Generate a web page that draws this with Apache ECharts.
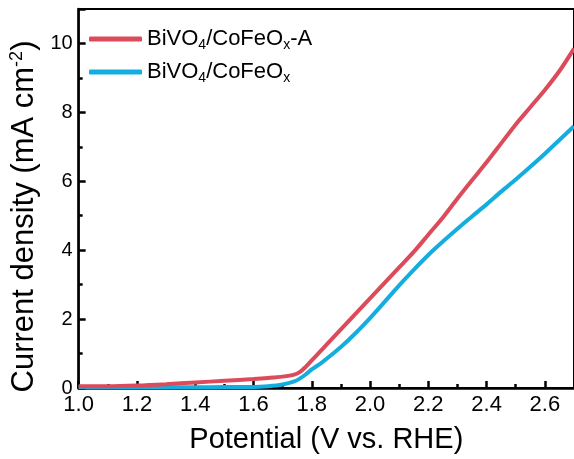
<!DOCTYPE html>
<html>
<head>
<meta charset="utf-8">
<script src="https://cdn.jsdelivr.net/npm/echarts@6/dist/echarts.min.js"></script>
<style>
  html, body { margin: 0; padding: 0; background: #fff; }
  #chart { width: 574px; height: 459px; }
</style>
</head>
<body>
<div id="chart"></div>
<script>
// potential (V vs. RHE)
const potential = [1.00, 1.10, 1.20, 1.30, 1.40, 1.50, 1.60, 1.65, 1.70, 1.74, 1.76, 1.78, 1.80, 1.83, 1.85, 1.90, 1.95,
  2.00, 2.05, 2.10, 2.15, 2.20, 2.25, 2.30, 2.35, 2.40, 2.45, 2.50, 2.55, 2.60, 2.65, 2.70];
// BiVO4/CoFeOx-A
const currentA = [0.05, 0.05, 0.07, 0.11, 0.16, 0.21, 0.26, 0.29, 0.33, 0.39, 0.47, 0.62, 0.8, 1.07, 1.25, 1.7, 2.15,
  2.6, 3.05, 3.5, 3.95, 4.45, 4.95, 5.5, 6.03, 6.55, 7.1, 7.65, 8.15, 8.65, 9.2, 9.85];
// BiVO4/CoFeOx
const currentB = [0.02, 0.02, 0.02, 0.02, 0.02, 0.03, 0.03, 0.05, 0.1, 0.19, 0.28, 0.4, 0.54, 0.71, 0.84, 1.19, 1.59,
  2.03, 2.5, 2.98, 3.43, 3.86, 4.25, 4.62, 4.98, 5.33, 5.7, 6.05, 6.42, 6.8, 7.2, 7.6];

const names = ['BiVO4/CoFeOx-A', 'BiVO4/CoFeOx'];
const colors = ['#dc4b5b', '#14addf'];

const font = 'Liberation Sans, Arial, sans-serif';

const chart = echarts.init(document.getElementById('chart'));
chart.setOption({
  animation: false,
  grid: {
    left: 77, right: 0, top: 9, bottom: 71,
    show: true, borderColor: '#000', borderWidth: 2
  },
  legend: {
    orient: 'vertical',
    left: 89, top: 28, padding: 0,
    itemWidth: 53, itemHeight: 5, itemGap: 9,
    icon: 'roundRect',
    data: names,
    formatter: function (n) {
      return n === names[0]
        ? 'BiVO{sub|4}/CoFeO{sub|x}-A'
        : 'BiVO{sub|4}/CoFeO{sub|x}';
    },
    textStyle: {
      fontFamily: font, fontSize: 22, color: '#000',
      rich: {
        sub: { fontFamily: font, fontSize: 14, color: '#000', verticalAlign: 'bottom', padding: [12, 0, 0, 0] }
      }
    }
  },
  xAxis: {
    type: 'value',
    min: 1.0, max: 2.7, interval: 0.2,
    name: 'Potential (V vs. RHE)',
    nameLocation: 'middle', nameGap: 37,
    nameTextStyle: { fontFamily: font, fontSize: 29, color: '#000' },
    axisLine: { lineStyle: { color: '#000', width: 2.5 } },
    axisTick: { inside: true, length: 7, lineStyle: { color: '#000', width: 2.5 } },
    minorTick: { show: true, splitNumber: 2, length: 4, lineStyle: { color: '#000', width: 2.5 } },
    axisLabel: {
      fontFamily: font, fontSize: 22, color: '#000', margin: 6,
      showMaxLabel: false,
      formatter: v => v.toFixed(1)
    },
    splitLine: { show: false }
  },
  yAxis: {
    type: 'value',
    min: 0, max: 11, interval: 2,
    name: 'Current density (mA cm{sup|-2})',
    nameLocation: 'middle', nameGap: 28,
    nameTextStyle: {
      fontFamily: font, fontSize: 31, color: '#000',
      padding: [0, 36, 0, 0],
      rich: { sup: { fontFamily: font, fontSize: 18, color: '#000', verticalAlign: 'top', padding: [0, 0, 14, 0] } }
    },
    axisLine: { lineStyle: { color: '#000', width: 2.5 } },
    axisTick: { inside: true, length: 7, lineStyle: { color: '#000', width: 2.5 } },
    minorTick: { show: true, splitNumber: 2, length: 4, lineStyle: { color: '#000', width: 2.5 } },
    axisLabel: {
      fontFamily: font, fontSize: 20, color: '#000', margin: 6,
      showMaxLabel: false
    },
    splitLine: { show: false }
  },
  series: [
    {
      name: names[1], type: 'line', smooth: 0.3, symbol: 'none',
      data: potential.map((x, i) => [x, currentB[i]]),
      lineStyle: { color: colors[1], width: 4 }, itemStyle: { color: colors[1] }
    },
    {
      name: names[0], type: 'line', smooth: 0.3, symbol: 'none',
      data: potential.map((x, i) => [x, currentA[i]]),
      lineStyle: { color: colors[0], width: 4 }, itemStyle: { color: colors[0] }
    }
  ]
});
</script>
</body>
</html>
